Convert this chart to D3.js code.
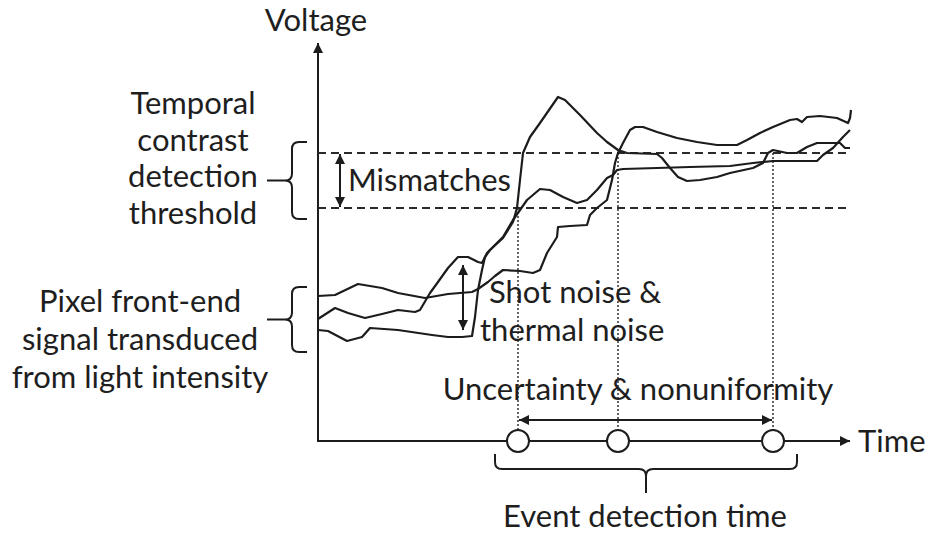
<!DOCTYPE html>
<html>
<head>
<meta charset="utf-8">
<script src="https://cdn.jsdelivr.net/npm/d3@7"></script>
<style>
  html, body { margin: 0; padding: 0; background: #fff; }
  svg text { font-family: Lato, "Open Sans", sans-serif; fill: #1e1e1e; }
</style>
</head>
<body>
<div id="chart"></div>
<script>
// time in arbitrary units, voltage in arbitrary units
const curveA = [
  [0, 36.25], [1.7, 36.5], [4.0, 39.25], [6.4, 38.25], [8.0, 37.0], [10.7, 35.75],
  [13.0, 36.75], [15.4, 37.25], [16.0, 38.0], [17.0, 39.75], [17.7, 41.25], [18.5, 42.75],
  [20.2, 42.5], [21.5, 42.0], [22.2, 42.75], [22.9, 47.0], [23.9, 51.0], [24.0, 53.5],
  [25.2, 53.75], [26.9, 54.0], [27.2, 56.5], [27.9, 58.25], [28.9, 60.25], [29.4, 65.25],
  [29.7, 69.5], [30.0, 72.0], [30.5, 74.5], [31.2, 77.75], [31.7, 78.5], [32.5, 78.5],
  [33.9, 77.25], [35.9, 75.75], [37.9, 74.75], [39.9, 74.0], [41.9, 74.0], [42.9, 75.25],
  [44.2, 77.0], [45.5, 78.5], [47.2, 80.25], [47.9, 80.5], [48.4, 79.75], [48.9, 81.0],
  [50.2, 81.25], [51.9, 80.75], [53.0, 79.5], [53.2, 80.75], [53.3, 82.75]
];
const curveB = [
  [0, 30.5], [1.7, 33.25], [3.0, 32.0], [4.7, 30.75], [6.4, 31.75], [8.0, 32.75],
  [9.7, 32.25], [10.2, 32.75], [11.2, 37.0], [12.0, 39.75], [13.0, 43.25], [14.0, 46.0],
  [15.0, 46.0], [16.0, 44.75], [16.4, 44.5], [16.9, 47.0], [18.5, 51.0], [19.5, 55.25],
  [20.9, 60.25], [22.2, 63.0], [23.2, 62.75], [24.5, 61.0], [25.9, 59.5], [26.9, 60.25],
  [27.9, 62.75], [28.9, 65.75], [29.5, 66.5], [29.9, 67.75], [30.5, 68.0], [33.9, 68.25],
  [37.2, 68.5], [41.2, 68.75], [43.5, 69.5], [45.5, 70.0], [49.9, 70.0], [50.5, 71.5],
  [51.5, 73.25], [52.5, 76.0], [53.2, 77.75]
];
const curveC = [
  [0, 27.75], [1.0, 27.5], [2.9, 25.0], [4.4, 26.0], [5.2, 28.25], [8.0, 27.75],
  [11.4, 26.5], [13.0, 26.0], [14.4, 26.0], [15.4, 26.25], [15.7, 31.0], [16.0, 37.75],
  [16.4, 42.75], [16.7, 46.0], [17.2, 47.75], [18.5, 50.75], [19.5, 54.75], [19.9, 58.25],
  [20.2, 65.25], [20.5, 72.0], [21.2, 76.0], [22.2, 79.5], [24.0, 86.0], [24.7, 85.25],
  [26.2, 81.5], [27.9, 77.0], [28.9, 74.75], [30.0, 72.75], [30.9, 72.0], [33.9, 71.75],
  [34.4, 70.75], [35.2, 68.25], [36.0, 66.0], [36.9, 65.0], [38.2, 65.25], [39.9, 66.0],
  [41.2, 67.0], [43.5, 68.25], [44.5, 69.5], [45.0, 72.0], [45.5, 72.75], [46.9, 72.0],
  [47.9, 72.0], [48.9, 73.5], [49.9, 74.5], [52.2, 74.5], [52.7, 73.25], [53.2, 73.25]
];
const curves = [curveA, curveB, curveC];

const thresholds = [72, 58.25];
const eventTimes = [20, 30, 45.5];
const eventLevels = [58.25, 72, 72];
const noiseSpan = [44, 27.75];
const noiseTime = 14.5;
const mismatchTime = 2.2;
const uncertaintyLevel = 5.25;
const thresholdBrace = [55.5, 74.75];
const signalBrace = [22.25, 38.5];
const eventBrace = [17.7, 47.9];

const thresholdLabel = ['Temporal', 'contrast', 'detection', 'threshold'];
const signalLabel = ['Pixel front-end', 'signal transduced', 'from light intensity'];
const noiseLabel = ['Shot noise &', 'thermal noise'];

const width = 938, height = 534;
const x = d3.scaleLinear().domain([0, 53]).range([318, 848]);
const y = d3.scaleLinear().domain([0, 99]).range([441, 45]);
const ink = '#1c1c1c';

const svg = d3.select('#chart').append('svg')
  .attr('width', width).attr('height', height)
  .attr('viewBox', [0, 0, width, height]);

const defs = svg.append('defs');
defs.append('marker')
  .attr('id', 'head')
  .attr('viewBox', '0 0 10 10')
  .attr('refX', 10).attr('refY', 5)
  .attr('markerWidth', 10).attr('markerHeight', 10)
  .attr('markerUnits', 'userSpaceOnUse')
  .attr('orient', 'auto-start-reverse')
  .append('path')
  .attr('d', 'M0,0 L10,5 L0,10 Z')
  .attr('fill', ink);

// axes
svg.append('line')
  .attr('x1', x(0)).attr('x2', x(0))
  .attr('y1', y(0) + 1).attr('y2', y(99) - 2)
  .attr('stroke', ink).attr('stroke-width', 2)
  .attr('marker-end', 'url(#head)');
svg.append('line')
  .attr('x1', x(0) - 1).attr('x2', x(53.2))
  .attr('y1', y(0)).attr('y2', y(0))
  .attr('stroke', ink).attr('stroke-width', 2)
  .attr('marker-end', 'url(#head)');

// thresholds
svg.append('g')
  .selectAll('line')
  .data(thresholds)
  .join('line')
  .attr('x1', x(0)).attr('x2', x(53.2))
  .attr('y1', d => y(d)).attr('y2', d => y(d))
  .attr('stroke', '#2a2a2a').attr('stroke-width', 2)
  .attr('stroke-dasharray', '8,5');

// event drop lines
svg.append('g')
  .selectAll('line')
  .data(eventTimes)
  .join('line')
  .attr('x1', d => x(d)).attr('x2', d => x(d))
  .attr('y1', (d, i) => y(eventLevels[i])).attr('y2', y(0))
  .attr('stroke', '#333').attr('stroke-width', 1.5)
  .attr('stroke-dasharray', '2,2');

// signals
const line = d3.line().x(d => x(d[0])).y(d => y(d[1]));
svg.append('g')
  .selectAll('path')
  .data(curves)
  .join('path')
  .attr('d', line)
  .attr('fill', 'none')
  .attr('stroke', ink)
  .attr('stroke-width', 2.2)
  .attr('stroke-linejoin', 'round');

// event circles
svg.append('g')
  .selectAll('circle')
  .data(eventTimes)
  .join('circle')
  .attr('cx', d => x(d)).attr('cy', y(0))
  .attr('r', 11)
  .attr('fill', '#fff')
  .attr('stroke', ink).attr('stroke-width', 2);

// double arrows
function dblArrow(x1, y1, x2, y2) {
  svg.append('line')
    .attr('x1', x1).attr('y1', y1).attr('x2', x2).attr('y2', y2)
    .attr('stroke', ink).attr('stroke-width', 2)
    .attr('marker-start', 'url(#head)')
    .attr('marker-end', 'url(#head)');
}
dblArrow(x(mismatchTime), y(thresholds[0]) + 1, x(mismatchTime), y(thresholds[1]) - 1);
dblArrow(x(noiseTime), y(noiseSpan[0]), x(noiseTime), y(noiseSpan[1]));
dblArrow(x(eventTimes[0]) + 1, y(uncertaintyLevel), x(eventTimes[2]) - 1, y(uncertaintyLevel));

// braces
function vBrace(top, bot) {
  const xh = 307, xs = 292, xt = 267, r = 7;
  const mid = (top + bot) / 2;
  return `M${xh},${top} L${xs + r},${top} Q${xs},${top} ${xs},${top + r} L${xs},${mid - r}` +
    ` Q${xs},${mid} ${xs - r},${mid} L${xt},${mid} M${xs - r},${mid} Q${xs},${mid} ${xs},${mid + r}` +
    ` L${xs},${bot - r} Q${xs},${bot} ${xs + r},${bot} L${xh},${bot}`;
}
function hBrace(left, right) {
  const yh = y(0) + 13, ys = y(0) + 28, yt = y(0) + 52, r = 7;
  const mid = (left + right) / 2;
  return `M${left},${yh} L${left},${ys - r} Q${left},${ys} ${left + r},${ys} L${mid - r},${ys}` +
    ` Q${mid},${ys} ${mid},${ys + r} L${mid},${yt} M${mid},${ys + r} Q${mid},${ys} ${mid + r},${ys}` +
    ` L${right - r},${ys} Q${right},${ys} ${right},${ys - r} L${right},${yh}`;
}
const braceG = svg.append('g')
  .attr('fill', 'none').attr('stroke', ink).attr('stroke-width', 2);
braceG.append('path').attr('d', vBrace(y(thresholdBrace[1]), y(thresholdBrace[0])));
braceG.append('path').attr('d', vBrace(y(signalBrace[1]), y(signalBrace[0])));
braceG.append('path').attr('d', hBrace(x(eventBrace[0]), x(eventBrace[1])));

// labels
const fs = 31;
function label(txt, px, py, anchor) {
  svg.append('text')
    .attr('x', px).attr('y', py)
    .attr('text-anchor', anchor || 'start')
    .attr('font-size', fs)
    .text(txt);
}
label('Voltage', 316, 31, 'middle');
label('Time', 858, 452);
label('Mismatches', 348, 191);
label(noiseLabel[0], 489, 303);
label(noiseLabel[1], 480, 341);
label('Uncertainty & nonuniformity', 638, 400, 'middle');
label('Event detection time', 645, 527, 'middle');
thresholdLabel.forEach((t, i) => label(t, 193, 114 + i * 36.7, 'middle'));
signalLabel.forEach((t, i) => label(t, 140, 312 + i * 38, 'middle'));
</script>
</body>
</html>
